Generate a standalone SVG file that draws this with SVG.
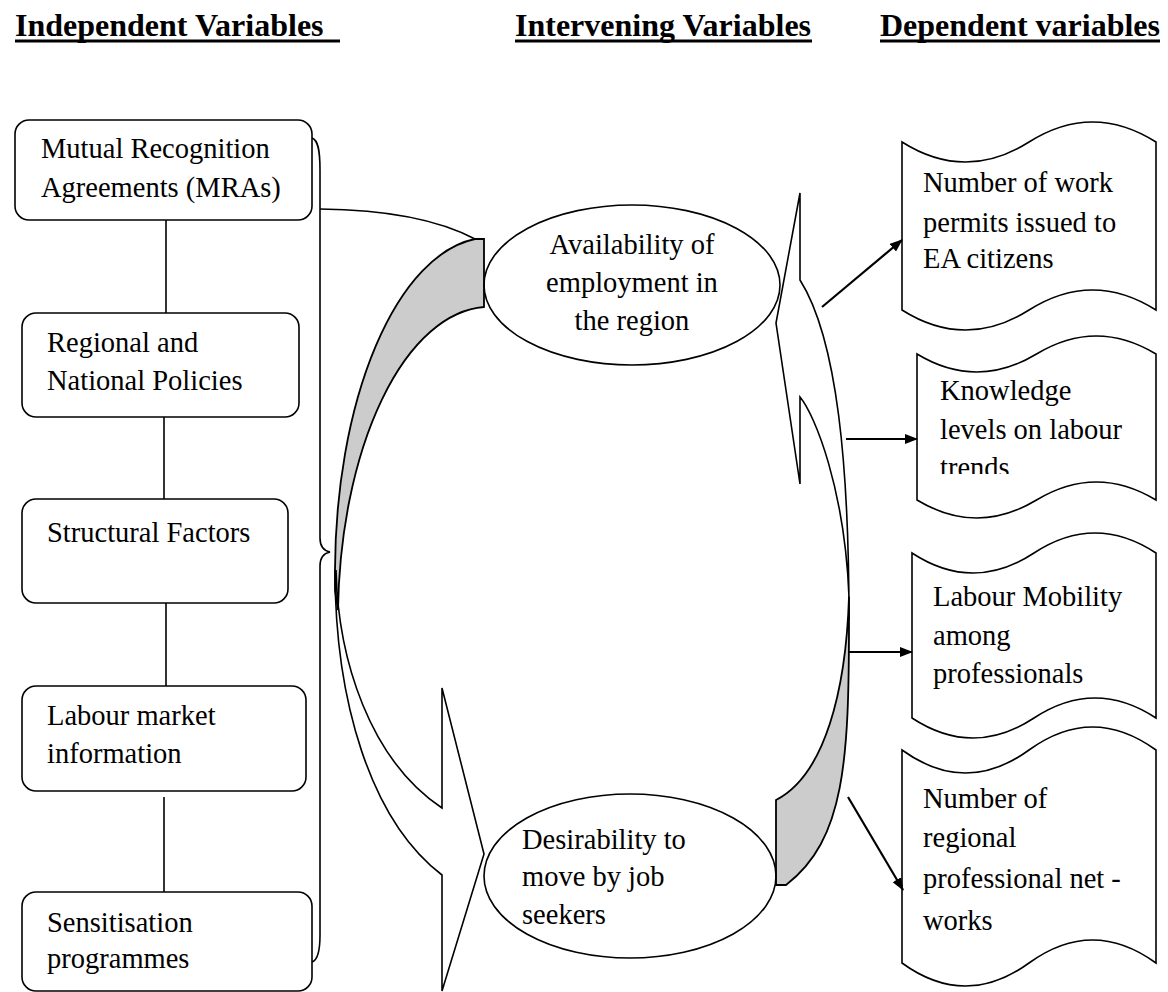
<svg xmlns="http://www.w3.org/2000/svg" width="1168" height="992" viewBox="0 0 1168 992">
<style>
.t{font-family:"Liberation Serif","Times New Roman",serif;font-size:28.5px;fill:#000}
.h{font-family:"Liberation Serif","Times New Roman",serif;font-size:32px;font-weight:bold;fill:#000}
.box{fill:#fff;stroke:#000;stroke-width:1.6}
.ln{fill:none;stroke:#000;stroke-width:1.6}
.gr{fill:#cccccc;stroke:#000;stroke-width:1.8}
.ar{fill:none;stroke:#000;stroke-width:2.2;marker-end:url(#ah)}
</style>
<defs>
<marker id="ah" markerWidth="13" markerHeight="10" refX="12" refY="5" orient="auto" markerUnits="userSpaceOnUse"><path d="M0,0 L13,5 L0,10 Z" fill="#000"/></marker>
<clipPath id="clipTrends"><rect x="900" y="0" width="268" height="474"/></clipPath>
</defs>
<rect width="1168" height="992" fill="#fff"/>

<g id="headers">
<text class="h" x="15" y="36">Independent Variables</text>
<rect x="15" y="39.5" width="325" height="3" fill="#000"/>
<text class="h" x="515" y="36">Intervening Variables</text>
<rect x="515" y="39.5" width="297" height="3" fill="#000"/>
<text class="h" x="880" y="36">Dependent variables</text>
<rect x="880" y="39.5" width="280" height="3" fill="#000"/>
</g>

<g id="connectors">
<line class="ln" x1="166" y1="220" x2="166" y2="313"/>
<line class="ln" x1="164" y1="417" x2="164" y2="499"/>
<line class="ln" x1="166" y1="603" x2="166" y2="686"/>
<line class="ln" x1="164" y1="797" x2="164" y2="892"/>
<path class="ln" d="M312,138 C318,140 320,150 320,170 L320,538 C320,547 325,551 330,552 C325,553 320,557 320,566 L320,935 C320,950 318,960 312,962"/>
<path class="ln" d="M320,209 Q420,210 475,239"/>
<path class="gr" d="M475,239 L484,239 L484,307 A152,313 0 0 0 338,610 L335,590 L335,570 A155,335 0 0 1 475,239 Z"/>
<path class="ln" d="M335,570 C335,700 370,820 442,875 L442,991 L484,854 L442,688 L442,808 C370,760 338,660 336,570"/>
<path class="ln" d="M849,620 C849,470 838,340 800,280 L800,193 L776,323 L800,484 L800,397 C815,415 845,490 849,597"/>
<path class="gr" d="M849,597 C846,690 825,775 776,800 L776,885 L786,885 C845,840 849,760 849,620 Z"/>
<line class="ar" x1="822" y1="307" x2="902" y2="240"/>
<line class="ar" x1="846" y1="439" x2="917" y2="439"/>
<line class="ar" x1="849" y1="652" x2="912" y2="652"/>
<line class="ar" x1="848" y1="797" x2="903" y2="890"/>
</g>

<g id="mra">
<rect class="box" x="15" y="120" width="297" height="100" rx="14"/>
<text class="t" x="41" y="158">Mutual Recognition</text>
<text class="t" x="41" y="197">Agreements (MRAs)</text>
</g>
<g id="policies">
<rect class="box" x="22" y="313" width="277" height="104" rx="14"/>
<text class="t" x="47" y="352">Regional and</text>
<text class="t" x="47" y="390">National Policies</text>
</g>
<g id="structural">
<rect class="box" x="22" y="499" width="266" height="104" rx="14"/>
<text class="t" x="47" y="542">Structural Factors</text>
</g>
<g id="lmi">
<rect class="box" x="22" y="686" width="284" height="105" rx="14"/>
<text class="t" x="47" y="725">Labour market</text>
<text class="t" x="47" y="763">information</text>
</g>
<g id="sensitisation">
<rect class="box" x="22" y="892" width="290" height="99" rx="14"/>
<text class="t" x="47" y="932">Sensitisation</text>
<text class="t" x="47" y="968">programmes</text>
</g>

<g id="availability">
<ellipse class="ln" cx="632" cy="285" rx="148" ry="80"/>
<text class="t" x="632" y="254" text-anchor="middle">Availability of</text>
<text class="t" x="632" y="292" text-anchor="middle">employment in</text>
<text class="t" x="632" y="330" text-anchor="middle">the region</text>
</g>
<g id="desirability">
<ellipse class="ln" cx="630" cy="876" rx="146" ry="82"/>
<text class="t" x="522" y="849">Desirability to</text>
<text class="t" x="522" y="886">move by job</text>
<text class="t" x="522" y="924">seekers</text>
</g>

<g id="permits">
<path class="ln" d="M902,142 C944.3,168.7 986.7,168.7 1029,142 C1071.3,115.3 1113.7,115.3 1156,142 L1156,310 C1113.7,283.3 1071.3,283.3 1029,310 C986.7,336.7 944.3,336.7 902,310 Z"/>
<text class="t" x="923" y="192">Number of work</text>
<text class="t" x="923" y="232">permits issued to</text>
<text class="t" x="923" y="268">EA citizens</text>
</g>
<g id="knowledge">
<path class="ln" d="M917,354 C956.8,378 996.7,378 1036.5,354 C1076.3,330 1116.2,330 1156,354 L1156,500 C1116.2,476 1076.3,476 1036.5,500 C996.7,524 956.8,524 917,500 Z"/>
<text class="t" x="940" y="400">Knowledge</text>
<text class="t" x="940" y="439">levels on labour</text>
<text class="t" x="940" y="477" clip-path="url(#clipTrends)">trends</text>
</g>
<g id="mobility">
<path class="ln" d="M912,553 C952.7,579.7 993.3,579.7 1034,553 C1074.7,526.3 1115.3,526.3 1156,553 L1156,718 C1115.3,691.3 1074.7,691.3 1034,718 C993.3,744.7 952.7,744.7 912,718 Z"/>
<text class="t" x="933" y="606">Labour Mobility</text>
<text class="t" x="933" y="645">among</text>
<text class="t" x="933" y="683">professionals</text>
</g>
<g id="networks">
<path class="ln" d="M902,750 C944.3,780.7 986.7,780.7 1029,750 C1071.3,719.3 1113.7,719.3 1156,750 L1156,963 C1113.7,932.3 1071.3,932.3 1029,963 C986.7,993.7 944.3,993.7 902,963 Z"/>
<text class="t" x="923" y="808">Number of</text>
<text class="t" x="923" y="847">regional</text>
<text class="t" x="923" y="888">professional net -</text>
<text class="t" x="923" y="930">works</text>
</g>
</svg>
